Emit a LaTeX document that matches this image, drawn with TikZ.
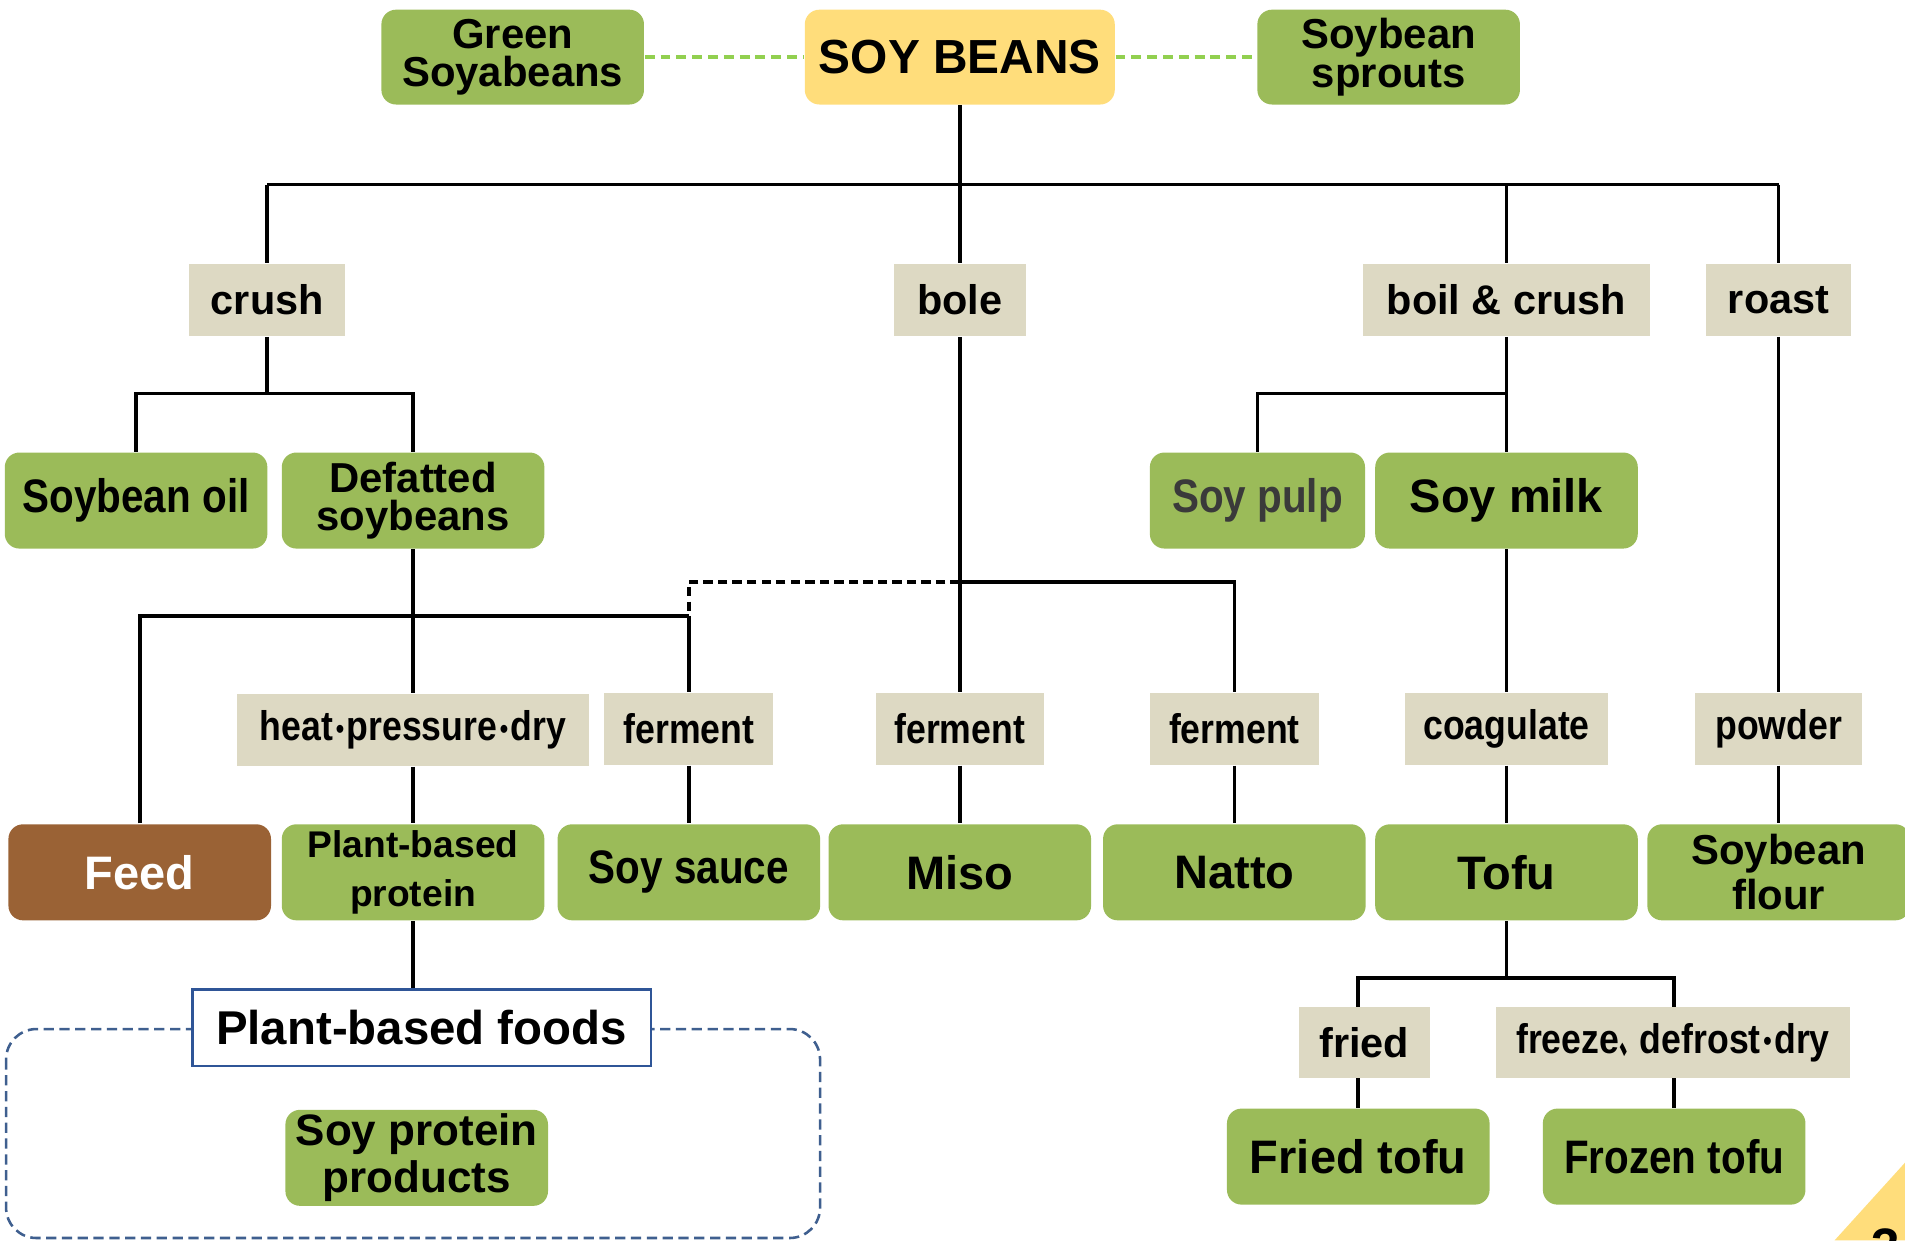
\documentclass[tikz,border=0pt]{standalone}
\usepackage{fontspec}
\setmainfont{Liberation Sans}
\newfontfamily\slimfont[FakeStretch=0.86]{Liberation Sans}
\newfontfamily\cjk[FakeStretch=0.5]{Noto Sans CJK SC}
\newcommand\middot{\kern0.6pt{\fontsize{6.5}{6.5}\selectfont\raisebox{0.6pt}{•}}\kern0.6pt}
\usepackage{tikz}
\usetikzlibrary{backgrounds}

\definecolor{leaf}{HTML}{9BBB59}
\definecolor{sand}{HTML}{DDD9C3}
\definecolor{sun}{HTML}{FFDD7B}
\definecolor{bark}{HTML}{9A6235}
\definecolor{sprout}{HTML}{92D050}
\definecolor{ink}{HTML}{2F5597}
\definecolor{frame}{HTML}{3F5F8F}
\definecolor{pulpgray}{HTML}{3A3A3A}

\tikzset{
  prod/.style={fill=leaf, rounded corners=0.12cm, minimum width=2.16cm,
    minimum height=0.79cm, inner sep=0pt, align=center,
    font=\fontsize{11}{12}\selectfont\bfseries},
  twoline/.style={font=\fontsize{9.8}{9}\selectfont\bfseries},
  slim/.style={font=\fontsize{11}{12}\selectfont\bfseries\slimfont},
  stepbox/.style={fill=sand, minimum height=0.59cm, inner sep=0pt,
    font=\fontsize{9.7}{11}\selectfont\bfseries},
  slimstep/.style={stepbox, font=\fontsize{9.7}{11}\selectfont\bfseries\slimfont},
  conn/.style={line width=0.85pt},
  gdash/.style={draw=sprout, line width=0.9pt, dash pattern=on 2.3pt off 1.4pt},
}

\begin{document}
\begin{tikzpicture}[x=0.01cm, y=-0.01cm]
    \useasboundingbox (0,0) rectangle (1568,1021);

    \node[prod, fill=sun, minimum width=2.55cm, minimum height=0.78cm,
      font=\fontsize{11.2}{13}\selectfont\bfseries] (soy) at (790,47) {SOY BEANS};
    \node[prod, twoline, minimum height=0.78cm] (green) at (422,47) {Green\\Soyabeans};
    \node[prod, twoline, minimum height=0.78cm] (sprouts) at (1143,47) {Soybean\\sprouts};

    \node[stepbox, minimum width=1.28cm] (crush) at (220,247) {crush};
    \node[stepbox, minimum width=1.09cm] (bole) at (790,247) {bole};
    \node[stepbox, minimum width=2.36cm] (boilcrush) at (1240,247) {boil \& crush};
    \node[stepbox, minimum width=1.19cm] (roast) at (1464,247) {roast};

    \node[prod, slim] (oil) at (112,412) {Soybean oil};
    \node[prod, twoline] (defat) at (340,412) {Defatted\\soybeans};
    \node[prod, slim, minimum width=1.77cm, text=pulpgray] (pulp) at (1035,412) {Soy pulp};
    \node[prod] (milk) at (1240,412) {Soy milk};

    \node[slimstep, minimum width=2.90cm] (hpd) at (340,601)
      {heat\middot pressure\middot dry};
    \node[slimstep, minimum width=1.39cm] (ferm1) at (567,600) {ferment};
    \node[slimstep, minimum width=1.38cm] (ferm2) at (790,600) {ferment};
    \node[slimstep, minimum width=1.39cm] (ferm3) at (1016,600) {ferment};
    \node[slimstep, minimum width=1.67cm] (coag) at (1240,600) {coagulate};
    \node[slimstep, minimum width=1.37cm] (powder) at (1464,600) {powder};

    \node[prod, fill=bark, text=white] (feed) at (115,718) {Feed};
    \node[prod, font=\fontsize{8.7}{11.4}\selectfont\bfseries] (protein) at (340,718)
      {Plant-based\\protein};
    \node[prod, slim] (sauce) at (567,718) {Soy sauce};
    \node[prod] (miso) at (790,718) {Miso};
    \node[prod] (natto) at (1016,718) {Natto};
    \node[prod] (tofu) at (1240,718) {Tofu};
    \node[prod, font=\fontsize{9.8}{10.5}\selectfont\bfseries] (flour) at (1464,718)
      {Soybean\\flour};

    \node[draw=ink, line width=0.5pt, fill=white, minimum width=3.77cm,
      minimum height=0.63cm, inner sep=0pt, font=\fontsize{11.1}{13}\selectfont\bfseries]
      (foods) at (347,846) {Plant-based foods};
    \node[prod, font=\fontsize{10.3}{11}\selectfont\bfseries] (spp) at (343,953)
      {Soy protein\\products};

    \node[stepbox, minimum width=1.08cm] (fried) at (1123,858) {fried};
    \node[slimstep, minimum width=2.91cm] (freeze) at (1377,858)
      {freeze{\cjk 、}defrost\middot dry};
    \node[prod] (friedtofu) at (1118,952) {Fried tofu};
    \node[prod, slim] (frozentofu) at (1378,952) {Frozen tofu};

    \fill[sun] (1510,1021) -- (1568,957) -- (1568,1021) -- cycle;
    \node[anchor=north, inner sep=0pt, font=\fontsize{12}{12}\selectfont\bfseries]
      (pagenum) at (1552,1011) {3};

    \coordinate (top) at (790,152);
    \coordinate (lbar) at (220,324);
    \coordinate (rbar) at (1240,324);
    \coordinate (mid) at (790,479);
    \coordinate (low) at (567,507);
    \coordinate (tbar) at (1240,805);

    \begin{scope}[on background layer]
      \draw[gdash] (green) -- (soy);
      \draw[gdash] (soy) -- (sprouts);
      \draw[draw=frame, line width=0.6pt, dash pattern=on 2.4pt off 1.3pt,
        rounded corners=0.25cm] (5,847) rectangle (675,1019);

      \draw[conn] (soy) -- (top);
      \draw[conn] (crush |- top) -- (roast |- top);
      \foreach \n in {crush,bole,boilcrush,roast}
        \draw[conn] (\n |- top) -- (\n);

      \draw[conn] (crush) -- (lbar);
      \draw[conn] (oil) |- (lbar) -| (defat);
      \draw[conn] (defat) -- (hpd);
      \draw[conn] (feed) |- (low);
      \draw[conn] (low) -- (ferm1);
      \draw[conn, dash pattern=on 2.2pt off 1.2pt] (mid) -| (low);

      \draw[conn] (bole) -- (ferm2);
      \draw[conn] (mid) -| (ferm3);

      \draw[conn] (boilcrush) -- (milk);
      \draw[conn] (pulp) |- (rbar);
      \draw[conn] (milk) -- (coag);
      \draw[conn] (roast) -- (powder);

      \draw[conn] (hpd) -- (protein);
      \draw[conn] (protein) -- (protein |- foods.north);
      \draw[conn] (ferm1) -- (sauce);
      \draw[conn] (ferm2) -- (miso);
      \draw[conn] (ferm3) -- (natto);
      \draw[conn] (coag) -- (tofu);
      \draw[conn] (powder) -- (flour);

      \draw[conn] (tofu) -- (tbar);
      \draw[conn] (friedtofu) |- (tbar) -| (frozentofu);
    \end{scope}
\end{tikzpicture}
\end{document}
